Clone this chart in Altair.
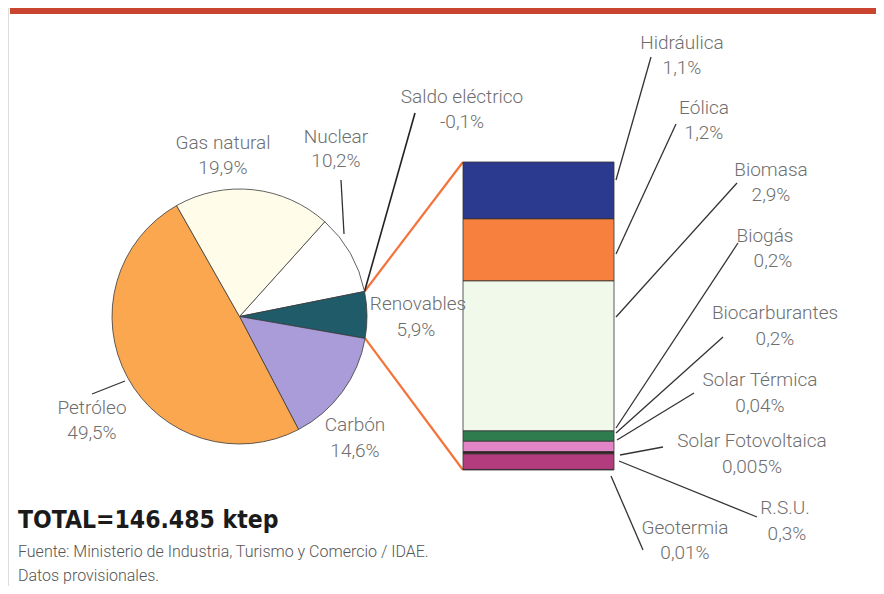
import math
import altair as alt
import pandas as pd

# ---------------- data ----------------
pie_categories = ["Nuclear", "Renovables", "Carbón", "Petróleo", "Gas natural"]
pie_values = [10.2, 5.9, 14.6, 49.5, 19.9]
pie_colors = ["#ffffff", "#1f5b69", "#a99cd9", "#fba750", "#fffdea"]

saldo_label = "Saldo eléctrico"
saldo_value = -0.1

ren_categories = ["Hidráulica", "Eólica", "Biomasa", "Biogás", "Biocarburantes",
                  "Solar Térmica", "Solar Fotovoltaica", "R.S.U.", "Geotermia"]
ren_values = [1.1, 1.2, 2.9, 0.2, 0.2, 0.04, 0.005, 0.3, 0.01]
ren_colors = ["#2b3a8f", "#f8803e", "#f1f9ea", "#2f7d4f", "#e284c5",
              "#3a1c22", "#f0de50", "#b23c7e", "#7a2a4a"]

title_text = "TOTAL=146.485 ktep"
source_lines = ["Fuente: Ministerio de Industria, Turismo y Comercio / IDAE.",
                "Datos provisionales."]

# ---------------- layout (reference pixel coords) ----------------
W, H = 868, 578
OFF = 8
pie_cx, pie_cy, pie_r = 239.5, 316.5, 127.5
pie_start_deg = 42.0
bar_x0, bar_x1, bar_top, bar_bot = 463, 614, 162, 470

FONT = "Roboto"
TXT = "#6e6e6e"

def fmt(v):
    return str(v).replace(".", ",") + "%"

pie_label_pos = {
    "Gas natural": (223, 143, 223, 168),
    "Nuclear": (336, 137, 336, 161),
    "Renovables": (418, 304, 416, 330),
    "Carbón": (355, 425, 355, 451),
    "Petróleo": (92, 408, 92, 433),
    saldo_label: (462, 97, 462, 122),
}
ren_label_pos = {
    "Hidráulica": (682, 43, 682, 68),
    "Eólica": (704, 108, 704, 133),
    "Biomasa": (771, 170, 771, 195),
    "Biogás": (765, 236, 773, 261),
    "Biocarburantes": (775, 313, 775, 339),
    "Solar Térmica": (760, 380, 760, 406),
    "Solar Fotovoltaica": (752, 441, 752, 467),
    "R.S.U.": (785, 508, 787, 534),
    "Geotermia": (685, 528, 685, 553),
}
leader_lines = [
    (651, 57, 616, 180), (676, 124, 616, 254), (737, 183, 616, 317),
    (738, 243, 616, 428), (723, 337, 616, 433), (694, 393, 617, 440),
    (663, 447, 620, 455), (757, 517, 619, 461), (643, 550, 611, 476),
    (341, 180, 344, 234), (92, 394, 125, 381),
]

# ---------------- tables ----------------
pie_df = pd.DataFrame({"cat": pie_categories, "value": pie_values,
                       "ord": list(range(len(pie_values)))})
total_pie = sum(pie_values)

ren_df = pd.DataFrame({"cat": ren_categories, "value": ren_values})
# stack from the top of the bar downwards (Hidráulica on top)
ren_df["top"] = ren_df["value"][::-1].cumsum()[::-1]
ren_df["bottom"] = ren_df["top"] - ren_df["value"]
total_ren = sum(ren_values)

labels = []
vals = dict(zip(pie_categories, pie_values))
vals[saldo_label] = saldo_value
vals.update(dict(zip(ren_categories, ren_values)))
for name, (x1, y1, x2, y2) in {**pie_label_pos, **ren_label_pos}.items():
    labels.append({"t": name, "x": x1 - OFF, "y": y1 - OFF})
    labels.append({"t": fmt(vals[name]), "x": x2 - OFF, "y": y2 - OFF})
labels_df = pd.DataFrame(labels)

lines_df = pd.DataFrame([{"x": a - OFF, "y": b - OFF, "x2": c - OFF, "y2": d - OFF}
                         for a, b, c, d in leader_lines])

def edge(deg):
    r = math.radians(deg)
    return pie_cx + pie_r * math.sin(r), pie_cy - pie_r * math.cos(r)

a_ren0 = pie_start_deg + 360 * pie_values[0] / total_pie
a_ren1 = a_ren0 + 360 * pie_values[1] / total_pie
p0 = edge(a_ren0)
p1 = edge(a_ren1)
orange_df = pd.DataFrame([
    {"x": p0[0] - OFF, "y": p0[1] - OFF, "x2": bar_x0 - OFF, "y2": bar_top - OFF},
    {"x": p1[0] - OFF, "y": p1[1] - OFF, "x2": bar_x0 - OFF, "y2": bar_bot - OFF},
])
saldo_df = pd.DataFrame([{"x": 415 - OFF, "y": 113 - OFF, "x2": p0[0] - OFF, "y2": p0[1] - OFF}])

def X(f):
    return alt.X(f, type="quantitative", scale=None, axis=None)
def Y(f):
    return alt.Y(f, type="quantitative", scale=None, axis=None)

# ---------------- layers ----------------
topbar = alt.Chart(pd.DataFrame({"x": [10 - OFF], "x2": [878 - OFF], "y": [10.5 - OFF]})).mark_rule(
    color="#c9452f", strokeWidth=7).encode(x=X("x"), x2="x2", y=Y("y"))

start = math.radians(pie_start_deg)
pie = alt.Chart(pie_df).mark_arc(radius=pie_r, stroke="#3a3a3a", strokeWidth=0.8).encode(
    theta=alt.Theta("value:Q", stack=True,
                    scale=alt.Scale(domain=[0, total_pie], range=[start, start + 2 * math.pi], nice=False, zero=True)),
    order=alt.Order("ord:Q", sort="ascending"),
    color=alt.Color("cat:N", scale=alt.Scale(domain=pie_categories, range=pie_colors), legend=None),
    x=alt.value(pie_cx - OFF), y=alt.value(pie_cy - OFF),
)

bar = alt.Chart(ren_df).mark_bar(stroke="#333333", strokeWidth=0.8).encode(
    x=alt.value(bar_x0 - OFF), x2=alt.value(bar_x1 - OFF),
    y=alt.Y("top:Q", stack=None,
            scale=alt.Scale(domain=[0, total_ren], range=[bar_bot - OFF, bar_top - OFF], nice=False, zero=True),
            axis=None),
    y2="bottom:Q",
    color=alt.Color("cat:N", scale=alt.Scale(domain=ren_categories, range=ren_colors), legend=None),
)

orange = alt.Chart(orange_df).mark_rule(color="#f4733a", strokeWidth=2.2).encode(
    x=X("x"), y=Y("y"), x2="x2", y2="y2")
blacklines = alt.Chart(lines_df).mark_rule(color="#333333", strokeWidth=1.3).encode(
    x=X("x"), y=Y("y"), x2="x2", y2="y2")
saldo = alt.Chart(saldo_df).mark_rule(color="#222222", strokeWidth=1.6).encode(
    x=X("x"), y=Y("y"), x2="x2", y2="y2")

texts = alt.Chart(labels_df).mark_text(font=FONT, fontSize=19, fontWeight=300, color=TXT,
                                       align="center", baseline="middle").encode(
    x=X("x"), y=Y("y"), text="t:N")

title = alt.Chart(pd.DataFrame({"t": [title_text], "x": [18 - OFF], "y": [521 - OFF]})).mark_text(
    font="'DejaVu Sans Condensed', 'Liberation Sans Narrow', 'Roboto Condensed', sans-serif",
    fontSize=24.5, fontWeight="bold", color="#1b1b1b",
    align="left", baseline="middle").encode(x=X("x"), y=Y("y"), text="t:N")

source = alt.Chart(pd.DataFrame({"t": source_lines, "x": [18 - OFF] * 2, "y": [552 - OFF, 576 - OFF]})).mark_text(
    font=FONT, fontSize=16, fontWeight=300, color="#555555",
    align="left", baseline="middle").encode(x=X("x"), y=Y("y"), text="t:N")

chart = alt.layer(topbar, orange, saldo, pie, bar, blacklines, texts, title, source).resolve_scale(
    x="independent", y="independent", color="independent", theta="independent"
).properties(width=W, height=H, padding=0, autosize=alt.AutoSizeParams(type="none")).configure_view(
    stroke=None).configure(background="#ffffff")

chart.save("out.html", embed_options={"renderer": "svg", "actions": False})
